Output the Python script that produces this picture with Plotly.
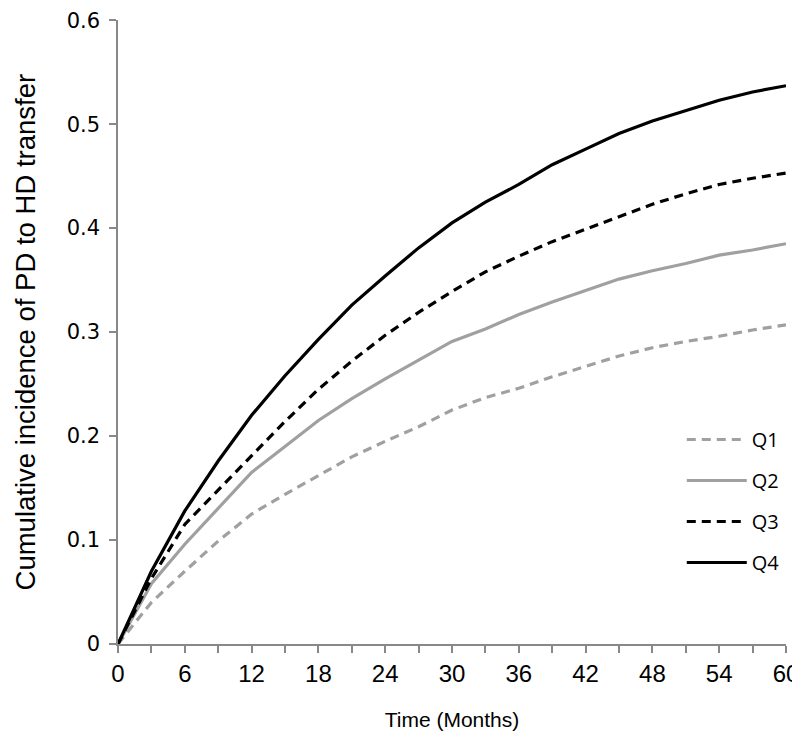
import plotly.graph_objects as go

months = [0, 3, 6, 9, 12, 15, 18, 21, 24, 27, 30, 33, 36, 39, 42, 45, 48, 51, 54, 57, 60]
q1 = [0, 0.040, 0.070, 0.099, 0.125, 0.144, 0.162, 0.180, 0.195, 0.209, 0.225, 0.237, 0.246, 0.257, 0.267, 0.277, 0.285, 0.291, 0.296, 0.302, 0.307]
q2 = [0, 0.058, 0.096, 0.131, 0.165, 0.190, 0.215, 0.236, 0.255, 0.273, 0.291, 0.303, 0.317, 0.329, 0.340, 0.351, 0.359, 0.366, 0.374, 0.379, 0.385]
q3 = [0, 0.063, 0.115, 0.148, 0.180, 0.214, 0.245, 0.272, 0.297, 0.319, 0.339, 0.358, 0.373, 0.387, 0.399, 0.411, 0.423, 0.433, 0.442, 0.448, 0.453]
q4 = [0, 0.070, 0.128, 0.176, 0.220, 0.258, 0.293, 0.326, 0.354, 0.381, 0.405, 0.425, 0.442, 0.461, 0.476, 0.491, 0.503, 0.513, 0.523, 0.531, 0.537]
x_ticks = list(range(0, 61, 6))
y_ticks = [0, 0.1, 0.2, 0.3, 0.4, 0.5, 0.6]
y_tick_labels = ["0", "0.1", "0.2", "0.3", "0.4", "0.5", "0.6"]
x_title = "Time (Months)"
y_title = "Cumulative incidence of PD to HD transfer"

series = [
    ("Q1", q1, "#a0a0a0", "9px,6px"),
    ("Q2", q2, "#a0a0a0", "solid"),
    ("Q3", q3, "#000000", "9px,6px"),
    ("Q4", q4, "#000000", "solid"),
]

fig = go.Figure()
for i, (name, vals, color, dash) in enumerate(series):
    fig.add_trace(go.Scatter(
        x=months, y=vals, mode="lines", name=name,
        line=dict(color=color, width=3.2, dash=dash),
        legendgroup=f"g{i}",
    ))

sans = "Liberation Sans, Arial, sans-serif"
wide = "DejaVu Sans, Verdana, sans-serif"

fig.update_layout(
    width=792, height=725,
    margin=dict(l=110, r=14, t=12, b=89),
    paper_bgcolor="white", plot_bgcolor="white",
    showlegend=True,
    legend=dict(
        x=0.844, y=0.359, xanchor="left", yanchor="top",
        font=dict(family="Open Sans, sans-serif", size=20, color="#000000"),
        bgcolor="rgba(0,0,0,0)", tracegroupgap=12, itemwidth=60,
    ),
    xaxis=dict(
        range=[0, 60], tickvals=x_ticks,
        showgrid=False, zeroline=False, automargin=False,
        showline=True, linecolor="#888888", linewidth=1.5,
        ticks="outside", ticklen=7, tickcolor="#888888", tickwidth=1.5,
        ticklabeloverflow="allow",
        minor=dict(dtick=3, tick0=0, ticks="outside", ticklen=7, tickcolor="#888888", tickwidth=1.5, showgrid=False),
        tickfont=dict(family=sans, size=24, color="#000000"),
        title=dict(text=x_title, font=dict(family=sans, size=21, color="#000000"), standoff=27),
    ),
    yaxis=dict(
        range=[0, 0.6002], tickvals=y_ticks, ticktext=y_tick_labels,
        showgrid=False, zeroline=False, automargin=False,
        showline=True, linecolor="#888888", linewidth=1.5,
        ticks="outside", ticklen=7, tickcolor="#888888", tickwidth=1.5,
        ticklabelstandoff=5, ticklabeloverflow="allow",
        tickfont=dict(family=wide, size=21, color="#000000"),
    ),
    annotations=[dict(
        text=y_title, textangle=-90, showarrow=False,
        xref="paper", yref="paper", x=-0.1647, y=0.5,
        xanchor="left", yanchor="middle",
        font=dict(family=sans, size=27.5, color="#000000"),
    )],
)

fig.write_html("out.html")
